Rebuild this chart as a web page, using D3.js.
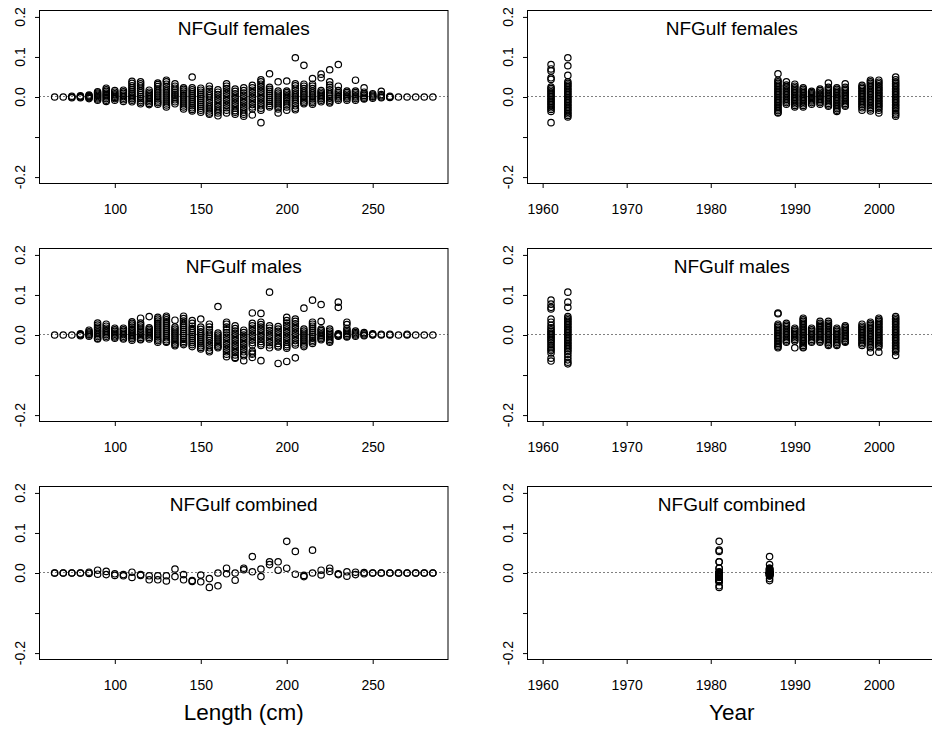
<!DOCTYPE html>
<html>
<head>
<meta charset="utf-8">
<script src="https://cdn.jsdelivr.net/npm/d3@7"></script>
<style>
  html, body { margin: 0; padding: 0; background: #fff; }
  svg { display: block; }
  text { font-family: "Liberation Sans", Arial, Helvetica, sans-serif; fill: #000; }
</style>
</head>
<body>
<svg id="chart" width="932" height="734"></svg>
<script>
// Length bins (cm) for the residual-by-length panels
const lengthBins = [65, 70, 75, 80, 85, 90, 95, 100, 105, 110, 115, 120, 125, 130, 135, 140, 145,
  150, 155, 160, 165, 170, 175, 180, 185, 190, 195, 200, 205, 210, 215, 220, 225, 230, 235, 240,
  245, 250, 255, 260, 265, 270, 275, 280, 285];

// Residuals for females, one list per length bin
const femalesByLength = [
  [0], [0], [0.002, 0, -0.002], [0.003, 0.001, 0, -0.002],
  [0.005, 0.003, 0.001, 0, -0.002, -0.004],
  [0.013, 0.01, 0.007, 0.004, 0.001, -0.002, -0.005, -0.008],
  [0.022, 0.018, 0.014, 0.01, 0.006, 0.003, 0, -0.004, -0.008, -0.011],
  [0.016, 0.012, 0.008, 0.005, 0.002, -0.001, -0.004, -0.008],
  [0.017, 0.013, 0.009, 0.005, 0.001, -0.003, -0.007, -0.011],
  [0.039, 0.034, 0.028, 0.023, 0.018, 0.013, 0.008, 0.004, 0, -0.004, -0.008, -0.012],
  [0.038, 0.033, 0.028, 0.022, 0.016, 0.011, 0.006, 0.001, -0.004, -0.009, -0.013, -0.017],
  [0.017, 0.012, 0.008, 0.004, 0, -0.004, -0.008, -0.012, -0.016, -0.019],
  [0.035, 0.031, 0.026, 0.02, 0.015, 0.01, 0.005, 0, -0.005, -0.01, -0.014, -0.018],
  [0.042, 0.038, 0.032, 0.026, 0.02, 0.015, 0.01, 0.005, 0, -0.005, -0.01, -0.015, -0.02, -0.025],
  [0.033, 0.027, 0.022, 0.017, 0.012, 0.007, 0.003, -0.002, -0.007, -0.012, -0.017],
  [0.023, 0.019, 0.015, 0.01, 0.005, 0, -0.005, -0.01, -0.015, -0.02, -0.025, -0.03],
  [0.05, 0.023, 0.018, 0.013, 0.008, 0.003, -0.002, -0.007, -0.012, -0.017, -0.022, -0.027, -0.031, -0.035],
  [0.022, 0.017, 0.012, 0.007, 0.002, -0.003, -0.008, -0.013, -0.018, -0.023, -0.028, -0.033, -0.038],
  [0.027, 0.02, 0.014, 0.008, 0.003, -0.002, -0.008, -0.014, -0.02, -0.025, -0.03, -0.035, -0.04, -0.043],
  [0.018, 0.012, 0.006, 0, -0.006, -0.012, -0.018, -0.024, -0.03, -0.035, -0.04, -0.047],
  [0.033, 0.027, 0.021, 0.015, 0.009, 0.003, -0.003, -0.009, -0.015, -0.021, -0.027, -0.033, -0.04],
  [0.02, 0.014, 0.008, 0.002, -0.004, -0.01, -0.016, -0.022, -0.028, -0.034, -0.038, -0.043],
  [0.023, 0.016, 0.01, 0.004, -0.002, -0.008, -0.014, -0.02, -0.026, -0.032, -0.038, -0.043, -0.048],
  [0.029, 0.023, 0.017, 0.011, 0.005, -0.001, -0.007, -0.013, -0.019, -0.025, -0.03, -0.045],
  [0.043, 0.038, 0.032, 0.026, 0.02, 0.014, 0.008, 0.002, -0.004, -0.01, -0.016, -0.022, -0.028, -0.033, -0.064],
  [0.058, 0.024, 0.019, 0.014, 0.009, 0.004, -0.001, -0.006, -0.011, -0.016, -0.021, -0.025],
  [0.038, 0.015, 0.01, 0.005, 0, -0.005, -0.01, -0.015, -0.02, -0.025, -0.03, -0.04],
  [0.04, 0.015, 0.011, 0.007, 0.003, -0.001, -0.005, -0.01, -0.015, -0.02, -0.025, -0.033],
  [0.098, 0.033, 0.028, 0.022, 0.016, 0.01, 0.005, 0, -0.005, -0.01, -0.016, -0.022, -0.028, -0.032],
  [0.079, 0.032, 0.027, 0.021, 0.015, 0.01, 0.005, 0, -0.005, -0.01, -0.014, -0.017],
  [0.046, 0.032, 0.027, 0.021, 0.015, 0.01, 0.005, 0, -0.005, -0.01, -0.014, -0.018],
  [0.057, 0.048, 0.016, 0.012, 0.008, 0.004, 0, -0.004, -0.008, -0.012],
  [0.068, 0.038, 0.03, 0.024, 0.018, 0.012, 0.007, 0.002, -0.003, -0.008, -0.012, -0.015],
  [0.081, 0.027, 0.016, 0.011, 0.007, 0.003, 0, -0.004, -0.008],
  [0.015, 0.011, 0.007, 0.003, 0, -0.004, -0.008],
  [0.042, 0.015, 0.011, 0.007, 0.003, 0, -0.004, -0.008],
  [0.023, 0.012, 0.008, 0.004, 0, -0.003, -0.005],
  [0.008, 0.005, 0.002, 0, -0.003],
  [0.014, 0.006, 0.003, 0, -0.002],
  [0.002, 0, -0.001],
  [0], [0], [0], [0], [0]
];

// Residuals for males, one list per length bin
const malesByLength = [
  [0], [0], [0], [0.003, 0.001, 0, -0.002],
  [0.012, 0.008, 0.005, 0.002, 0, -0.003],
  [0.03, 0.025, 0.02, 0.016, 0.012, 0.008, 0.004, 0, -0.004, -0.008, -0.01],
  [0.027, 0.022, 0.017, 0.013, 0.009, 0.005, 0.001, -0.003, -0.007],
  [0.017, 0.013, 0.009, 0.005, 0.002, -0.002, -0.005, -0.008],
  [0.017, 0.013, 0.009, 0.005, 0.001, -0.003, -0.007, -0.01],
  [0.033, 0.029, 0.025, 0.02, 0.015, 0.011, 0.007, 0.003, -0.001, -0.005, -0.009, -0.013],
  [0.042, 0.03, 0.025, 0.02, 0.015, 0.01, 0.006, 0.002, -0.002, -0.006, -0.01, -0.012],
  [0.046, 0.018, 0.014, 0.01, 0.006, 0.002, -0.002, -0.006, -0.01],
  [0.044, 0.04, 0.035, 0.03, 0.025, 0.02, 0.015, 0.01, 0.005, 0, -0.005, -0.01, -0.014, -0.018],
  [0.047, 0.043, 0.038, 0.033, 0.028, 0.023, 0.018, 0.013, 0.008, 0.003, -0.002, -0.007, -0.012, -0.016, -0.018],
  [0.037, 0.02, 0.015, 0.01, 0.005, 0, -0.005, -0.01, -0.015, -0.02, -0.024, -0.027],
  [0.047, 0.041, 0.035, 0.029, 0.024, 0.019, 0.014, 0.009, 0.004, -0.001, -0.006, -0.011, -0.016, -0.02, -0.024],
  [0.036, 0.029, 0.022, 0.016, 0.011, 0.006, 0.001, -0.004, -0.009, -0.014, -0.019, -0.024, -0.029],
  [0.04, 0.02, 0.014, 0.008, 0.003, -0.002, -0.007, -0.012, -0.017, -0.022, -0.027, -0.031, -0.035],
  [0.027, 0.02, 0.013, 0.007, 0.002, -0.003, -0.008, -0.014, -0.02, -0.026, -0.032, -0.038, -0.042],
  [0.071, 0.005, 0, -0.005, -0.01, -0.015, -0.02, -0.025, -0.029, -0.032],
  [0.032, 0.027, 0.02, 0.013, 0.006, 0, -0.006, -0.012, -0.018, -0.024, -0.03, -0.036, -0.042, -0.048, -0.054],
  [0.023, 0.016, 0.01, 0.004, -0.002, -0.008, -0.014, -0.02, -0.026, -0.032, -0.038, -0.044, -0.05, -0.056, -0.058],
  [0.012, 0.006, 0, -0.006, -0.012, -0.018, -0.024, -0.03, -0.036, -0.042, -0.048, -0.052, -0.064],
  [0.055, 0.029, 0.023, 0.017, 0.011, 0.005, -0.001, -0.007, -0.013, -0.019, -0.025, -0.04, -0.045, -0.048, -0.056],
  [0.054, 0.032, 0.026, 0.02, 0.014, 0.008, 0.002, -0.004, -0.01, -0.016, -0.022, -0.026, -0.064],
  [0.107, 0.023, 0.017, 0.011, 0.005, -0.001, -0.007, -0.013, -0.019, -0.025, -0.032],
  [0.021, 0.015, 0.009, 0.003, -0.003, -0.009, -0.015, -0.021, -0.027, -0.03, -0.071],
  [0.044, 0.036, 0.03, 0.024, 0.018, 0.012, 0.006, 0, -0.006, -0.012, -0.018, -0.024, -0.029, -0.033, -0.066],
  [0.04, 0.034, 0.028, 0.022, 0.016, 0.01, 0.004, -0.002, -0.008, -0.014, -0.02, -0.025, -0.057],
  [0.067, 0.015, 0.01, 0.005, 0, -0.005, -0.01, -0.015, -0.02, -0.025, -0.029],
  [0.087, 0.032, 0.027, 0.022, 0.017, 0.012, 0.007, 0.002, -0.003, -0.008, -0.013, -0.017, -0.021],
  [0.076, 0.034, 0.015, 0.011, 0.007, 0.003, -0.001, -0.005, -0.009, -0.012],
  [0.015, 0.01, 0.005, 0.001, -0.003, -0.007, -0.011, -0.015, -0.018],
  [0.082, 0.069, 0.003, 0.001, 0, -0.002, -0.003],
  [0.032, 0.026, 0.016, 0.012, 0.008, 0.004, 0, -0.003, -0.005],
  [0.01, 0.006, 0.003, 0, -0.003],
  [0.006, 0.003, 0, -0.002],
  [0.003, 0.001, 0],
  [0.002, 0], [0.002, 0], [0], [0.002, 0], [0], [0], [0]
];

// Combined sexes: one residual per length bin for each of the two survey years
const combinedYears = [1981, 1987];
const combined1981 = [0, 0, 0, 0, 0.002, -0.003, -0.004, -0.006, -0.007, -0.011, -0.006, -0.017,
  -0.017, -0.02, -0.009, -0.017, -0.021, -0.022, -0.036, -0.032, -0.002, -0.018, 0.012, 0.003,
  -0.009, 0.028, 0.028, 0.079, 0.054, -0.009, 0.057, -0.005, 0.012, -0.004, -0.008, -0.004,
  -0.002, 0, 0, 0, 0, 0, 0, 0, 0];
const combined1987 = [0, 0, 0, 0, -0.001, 0.007, 0.004, -0.002, -0.004, 0.002, -0.004, -0.007,
  -0.007, -0.007, 0.01, -0.004, -0.019, -0.005, -0.014, 0, 0.012, 0, 0.008, 0.041,
  0.01, 0.021, 0.007, 0.012, -0.003, -0.006, 0, 0.007, 0.004, -0.002, 0.003, 0.002,
  0.001, 0, 0, 0, 0, 0, 0, 0, 0];

// Survey years with sex-specific samples
const sexYears = [1961, 1963, 1988, 1989, 1990, 1991, 1992, 1993, 1994, 1995, 1996, 1998, 1999, 2000, 2002];

// Residuals for females, one list per year
const femalesByYear = [
  [0.081, 0.07, 0.065, 0.048, 0.044, 0.025, 0.021, 0.017, 0.013, 0.009, 0.005, 0.001, -0.003, -0.007, -0.011, -0.015, -0.019, -0.023, -0.027, -0.031, -0.036, -0.064],
  [0.098, 0.078, 0.054, 0.038, 0.034, 0.03, 0.026, 0.022, 0.018, 0.014, 0.01, 0.006, 0.002, -0.002, -0.006, -0.01, -0.014, -0.018, -0.022, -0.026, -0.03, -0.034, -0.038, -0.042, -0.046, -0.05],
  [0.058, 0.042, 0.038, 0.034, 0.03, 0.026, 0.022, 0.018, 0.014, 0.01, 0.006, 0.002, -0.002, -0.006, -0.01, -0.014, -0.018, -0.022, -0.026, -0.03, -0.034, -0.038, -0.04],
  [0.038, 0.03, 0.026, 0.022, 0.018, 0.014, 0.01, 0.006, 0.002, -0.002, -0.006, -0.01, -0.014, -0.018],
  [0.032, 0.027, 0.023, 0.019, 0.015, 0.011, 0.007, 0.003, -0.001, -0.005, -0.009, -0.013, -0.017, -0.021, -0.025],
  [0.023, 0.019, 0.015, 0.011, 0.007, 0.003, -0.001, -0.005, -0.009, -0.013, -0.017, -0.021, -0.025],
  [0.014, 0.011, 0.008, 0.005, 0.002, -0.001, -0.004, -0.007, -0.01, -0.014, -0.018],
  [0.02, 0.016, 0.012, 0.008, 0.005, 0.002, -0.002, -0.006, -0.01, -0.014, -0.018],
  [0.035, 0.024, 0.02, 0.016, 0.012, 0.008, 0.004, 0, -0.004, -0.008, -0.012, -0.016, -0.02, -0.023],
  [0.023, 0.019, 0.015, 0.011, 0.007, 0.003, -0.001, -0.005, -0.009, -0.013, -0.017, -0.021, -0.025, -0.029, -0.033, -0.036],
  [0.033, 0.024, 0.02, 0.016, 0.012, 0.008, 0.004, 0, -0.004, -0.008, -0.012, -0.016, -0.02, -0.023],
  [0.029, 0.025, 0.021, 0.017, 0.013, 0.009, 0.005, 0.001, -0.003, -0.007, -0.011, -0.015, -0.019, -0.023, -0.027, -0.033],
  [0.042, 0.038, 0.034, 0.03, 0.026, 0.022, 0.018, 0.014, 0.01, 0.006, 0.002, -0.002, -0.006, -0.01, -0.014, -0.018, -0.022, -0.026, -0.03, -0.035],
  [0.042, 0.037, 0.033, 0.028, 0.024, 0.02, 0.016, 0.012, 0.008, 0.004, 0, -0.004, -0.008, -0.012, -0.016, -0.02, -0.024, -0.028, -0.033, -0.04],
  [0.05, 0.043, 0.038, 0.034, 0.03, 0.026, 0.022, 0.018, 0.014, 0.01, 0.006, 0.002, -0.002, -0.006, -0.01, -0.014, -0.018, -0.022, -0.026, -0.03, -0.035, -0.04, -0.044, -0.048]
];

// Residuals for males, one list per year
const malesByYear = [
  [0.087, 0.077, 0.069, 0.065, 0.04, 0.032, 0.024, 0.018, 0.013, 0.009, 0.005, 0.001, -0.003, -0.007, -0.011, -0.015, -0.02, -0.025, -0.03, -0.035, -0.039, -0.045, -0.058, -0.065],
  [0.107, 0.082, 0.069, 0.046, 0.042, 0.038, 0.034, 0.03, 0.026, 0.022, 0.018, 0.014, 0.01, 0.006, 0.002, -0.002, -0.006, -0.01, -0.014, -0.018, -0.022, -0.026, -0.03, -0.034, -0.038, -0.042, -0.048, -0.055, -0.062, -0.068, -0.072],
  [0.055, 0.053, 0.027, 0.023, 0.019, 0.015, 0.011, 0.007, 0.003, -0.001, -0.005, -0.009, -0.013, -0.017, -0.021, -0.025, -0.029, -0.032],
  [0.029, 0.025, 0.021, 0.017, 0.013, 0.009, 0.005, 0.001, -0.003, -0.007, -0.011, -0.015, -0.018],
  [0.017, 0.013, 0.009, 0.005, 0.001, -0.003, -0.007, -0.011, -0.015, -0.032],
  [0.042, 0.038, 0.034, 0.03, 0.026, 0.022, 0.018, 0.014, 0.01, 0.006, 0.002, -0.002, -0.006, -0.01, -0.014, -0.018, -0.022, -0.026, -0.03, -0.032],
  [0.017, 0.013, 0.009, 0.005, 0.001, -0.003, -0.007, -0.011, -0.015, -0.018],
  [0.034, 0.029, 0.025, 0.021, 0.017, 0.013, 0.009, 0.005, 0.001, -0.003, -0.007, -0.011, -0.015, -0.018],
  [0.034, 0.029, 0.025, 0.021, 0.017, 0.013, 0.009, 0.005, 0.001, -0.003, -0.007, -0.011, -0.015, -0.019, -0.023, -0.026],
  [0.017, 0.013, 0.009, 0.005, 0.001, -0.003, -0.007, -0.011, -0.015, -0.019, -0.023, -0.026],
  [0.023, 0.019, 0.015, 0.011, 0.007, 0.003, -0.001, -0.005, -0.009, -0.013, -0.016, -0.018],
  [0.027, 0.022, 0.018, 0.014, 0.01, 0.006, 0.002, -0.002, -0.006, -0.01, -0.014, -0.018, -0.022, -0.026],
  [0.032, 0.028, 0.024, 0.02, 0.016, 0.012, 0.008, 0.004, 0, -0.004, -0.008, -0.012, -0.016, -0.02, -0.024, -0.028, -0.032, -0.043],
  [0.042, 0.038, 0.034, 0.03, 0.026, 0.022, 0.018, 0.014, 0.01, 0.006, 0.002, -0.002, -0.006, -0.01, -0.014, -0.018, -0.022, -0.026, -0.03, -0.043],
  [0.046, 0.042, 0.038, 0.034, 0.03, 0.026, 0.022, 0.018, 0.014, 0.01, 0.006, 0.002, -0.002, -0.006, -0.01, -0.014, -0.018, -0.022, -0.026, -0.03, -0.034, -0.038, -0.042, -0.051]
];

// Axis ticks and titles
const yTicks = [-0.2, -0.1, 0.0, 0.1, 0.2];
const yTickLabels = ["-0.2", "", "0.0", "0.1", "0.2"];
const lengthTicks = [100, 150, 200, 250];
const yearTicks = [1960, 1970, 1980, 1990, 2000];
const panelTitles = ["NFGulf females", "NFGulf males", "NFGulf combined"];

// ---- helpers to turn the lists into (x, y) points ----
const fromGroups = (keys, groups) => keys.flatMap((k, i) => groups[i].map(v => ({ x: k, y: v })));
const combinedByLength = lengthBins.flatMap((L, i) => [{ x: L, y: combined1981[i] }, { x: L, y: combined1987[i] }]);
const combinedByYear = [
  ...combined1981.map(v => ({ x: combinedYears[0], y: v })),
  ...combined1987.map(v => ({ x: combinedYears[1], y: v }))
];

// ---- layout ----
const svg = d3.select("#chart");
const colLeft = [39.5, 527.5];
const rowTop = [10.5, 248.5, 486.5];
const panelW = 408.5, panelH = 173;

const xLength = d3.scaleLinear().domain([56.2, 293.8]).range([0, panelW]);
const xYear = d3.scaleLinear().domain([1958.2, 2006.8]).range([0, panelW]);
const yRes = d3.scaleLinear().domain([-0.216, 0.216]).range([panelH, 0]);

const panels = [
  { row: 0, col: 0, title: panelTitles[0], x: xLength, ticks: lengthTicks, pts: fromGroups(lengthBins, femalesByLength) },
  { row: 0, col: 1, title: panelTitles[0], x: xYear, ticks: yearTicks, pts: fromGroups(sexYears, femalesByYear) },
  { row: 1, col: 0, title: panelTitles[1], x: xLength, ticks: lengthTicks, pts: fromGroups(lengthBins, malesByLength) },
  { row: 1, col: 1, title: panelTitles[1], x: xYear, ticks: yearTicks, pts: fromGroups(sexYears, malesByYear) },
  { row: 2, col: 0, title: panelTitles[2], x: xLength, ticks: lengthTicks, pts: combinedByLength },
  { row: 2, col: 1, title: panelTitles[2], x: xYear, ticks: yearTicks, pts: combinedByYear }
];

panels.forEach((p, i) => {
  const g = svg.append("g")
    .attr("transform", `translate(${colLeft[p.col]},${rowTop[p.row]})`);

  const clipId = "clip" + i;
  g.append("clipPath").attr("id", clipId)
    .append("rect").attr("x", 0).attr("y", 0).attr("width", panelW).attr("height", panelH);

  const plot = g.append("g").attr("clip-path", `url(#${clipId})`);

  // zero reference line (half-pixel offset keeps the dots crisp)
  plot.append("line")
    .attr("x1", 0).attr("x2", panelW)
    .attr("y1", yRes(0) - 0.5).attr("y2", yRes(0) - 0.5)
    .attr("stroke", "#000").attr("stroke-width", 1)
    .attr("stroke-dasharray", "1,3");

  // residual points
  plot.selectAll("circle").data(p.pts).join("circle")
    .attr("cx", d => p.x(d.x))
    .attr("cy", d => yRes(d.y))
    .attr("r", 3.2)
    .attr("fill", "none")
    .attr("stroke", "#000")
    .attr("stroke-width", 1.2);

  // x axis
  const xAxis = g.append("g")
    .attr("transform", `translate(0,${panelH})`)
    .call(d3.axisBottom(p.x).tickValues(p.ticks).tickFormat(d3.format("d")).tickSize(4.5).tickPadding(16.5));
  xAxis.select(".domain").remove();
  xAxis.selectAll("line").attr("stroke", "#000");
  xAxis.selectAll("text").attr("font-size", "14px")
    .style("font-family", '"Liberation Sans", Arial, sans-serif');

  // y axis ticks
  const yAxis = g.append("g")
    .call(d3.axisLeft(yRes).tickValues(yTicks).tickFormat("").tickSize(4.5));
  yAxis.select(".domain").remove();
  yAxis.selectAll("line").attr("stroke", "#000");

  // rotated y tick labels
  g.selectAll("text.ylab").data(yTicks).join("text")
    .attr("class", "ylab")
    .attr("transform", d => `translate(-15,${yRes(d)}) rotate(-90)`)
    .attr("text-anchor", "middle")
    .attr("font-size", "14px")
    .text((d, j) => yTickLabels[j]);

  // frame
  g.append("rect")
    .attr("x", 0).attr("y", 0).attr("width", panelW).attr("height", panelH)
    .attr("fill", "none").attr("stroke", "#000").attr("stroke-width", 1);

  // panel title
  g.append("text")
    .attr("x", panelW / 2).attr("y", 24)
    .attr("text-anchor", "middle")
    .attr("font-size", "19px")
    .text(p.title);
});

// outer axis titles
svg.append("text")
  .attr("x", colLeft[0] + panelW / 2).attr("y", 720)
  .attr("text-anchor", "middle").attr("font-size", "22.5px")
  .text("Length (cm)");
svg.append("text")
  .attr("x", colLeft[1] + panelW / 2).attr("y", 720)
  .attr("text-anchor", "middle").attr("font-size", "22.5px")
  .text("Year");
</script>
</body>
</html>
